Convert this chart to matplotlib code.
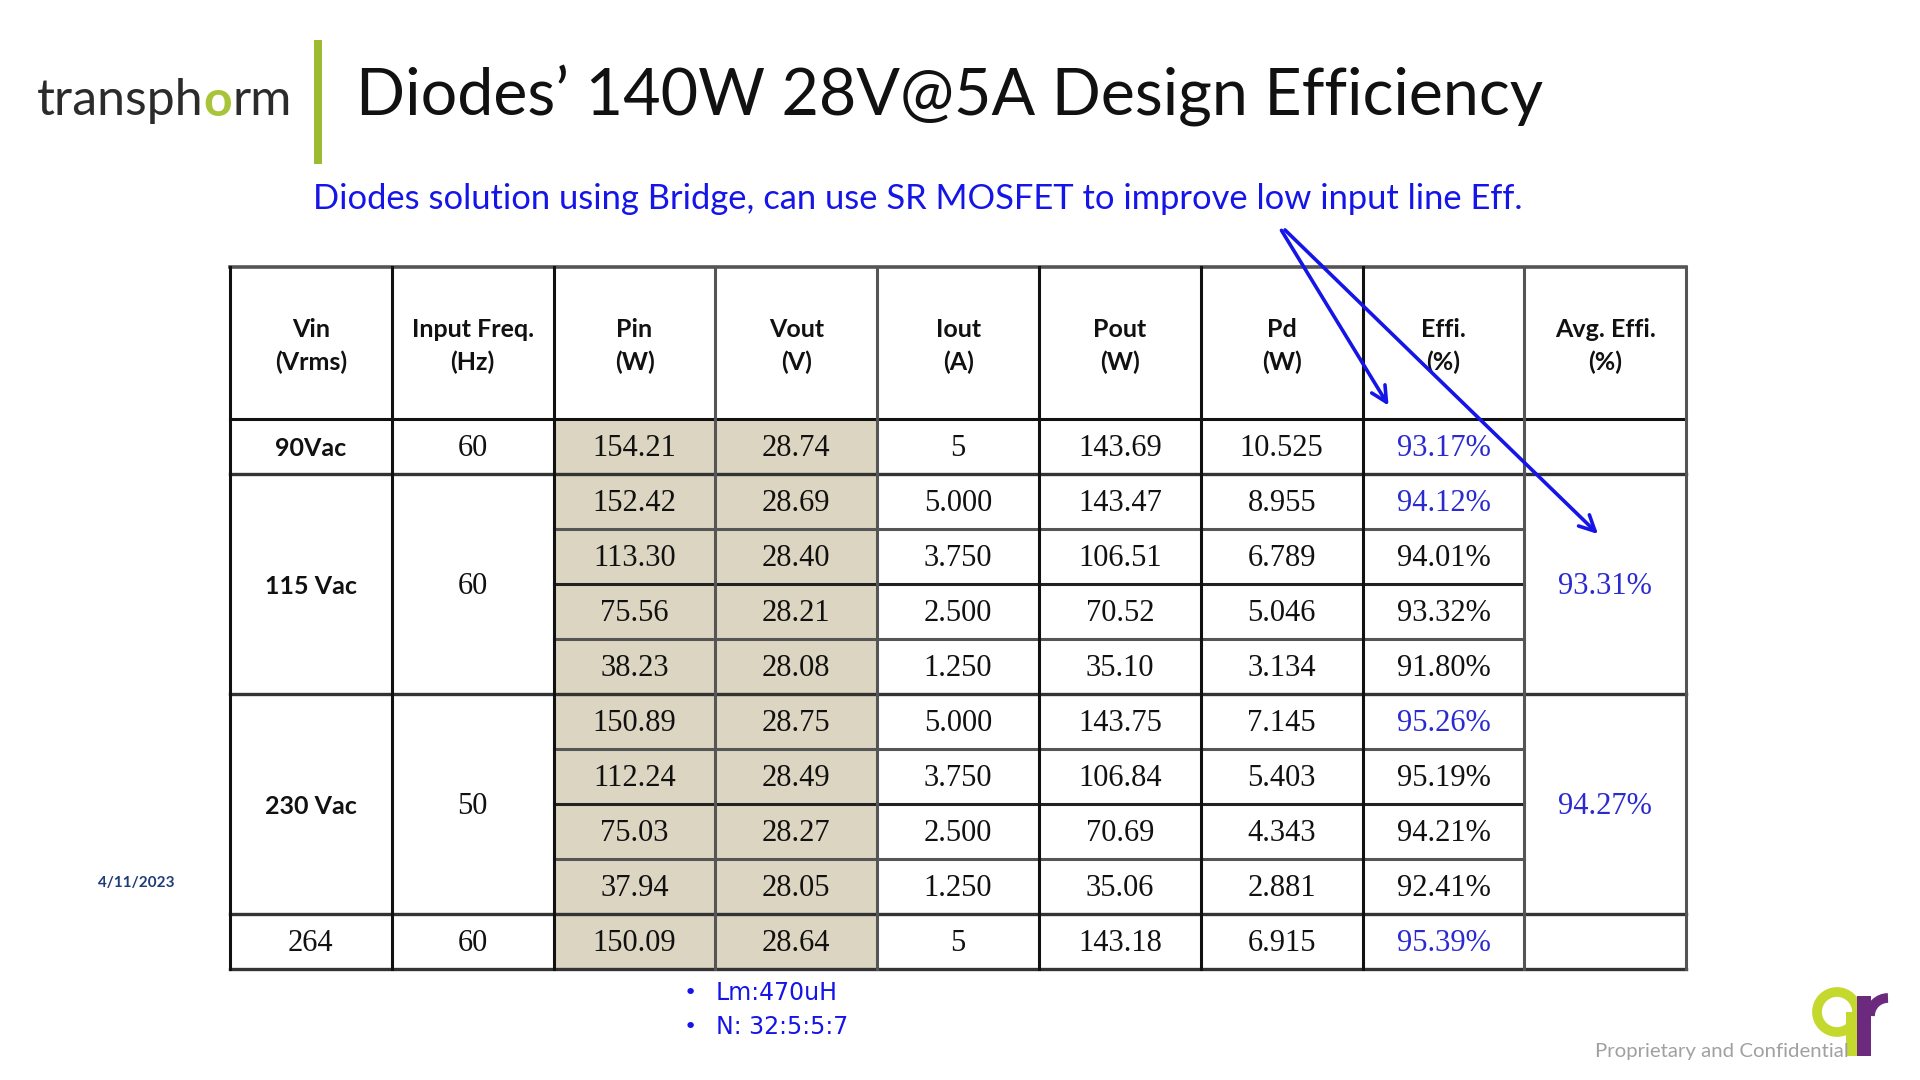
import matplotlib.pyplot as plt
from matplotlib.patches import Rectangle, Circle, Arc

# ---- data ----
col_heads = ['Vin\n(Vrms)', 'Input Freq.\n(Hz)', 'Pin\n(W)', 'Vout\n(V)', 'Iout\n(A)',
             'Pout\n(W)', 'Pd\n(W)', 'Effi.\n(%)', 'Avg. Effi.\n(%)']
vin_labels = ['90Vac', '115 Vac', '230 Vac', '264']
vin_bold = [True, True, True, False]
freq = ['60', '60', '50', '60']
group_rows = [1, 4, 4, 1]
avg_effi = ['', '93.31%', '94.27%', '']

pin = ['154.21', '152.42', '113.30', '75.56', '38.23', '150.89', '112.24', '75.03', '37.94', '150.09']
vout = ['28.74', '28.69', '28.40', '28.21', '28.08', '28.75', '28.49', '28.27', '28.05', '28.64']
iout = ['5', '5.000', '3.750', '2.500', '1.250', '5.000', '3.750', '2.500', '1.250', '5']
pout = ['143.69', '143.47', '106.51', '70.52', '35.10', '143.75', '106.84', '70.69', '35.06', '143.18']
pd_w = ['10.525', '8.955', '6.789', '5.046', '3.134', '7.145', '5.403', '4.343', '2.881', '6.915']
effi = ['93.17%', '94.12%', '94.01%', '93.32%', '91.80%', '95.26%', '95.19%', '94.21%', '92.41%', '95.39%']
effi_blue = [True, True, False, False, False, True, False, False, False, True]

notes = ['Lm:470uH', 'N: 32:5:5:7']

# ---- layout ----
X0, CW = 230, 161.8
Y_TOP, Y_HEAD, RH = 267, 419, 55.0
BLUE = '#1515E8'
VAL_BLUE = '#2A2AD0'
SHADE = '#DCD5C1'
SERIF = 'Liberation Serif'
SANS = 'Lato'

fig = plt.figure(figsize=(19.2, 10.8), dpi=100)
ax = fig.add_axes([0, 0, 1, 1])
ax.set_xlim(0, 1920)
ax.set_ylim(1080, 0)
ax.axis('off')

ncol = len(col_heads)
nrow = len(pin)


def cx(c):
    return X0 + CW * (c + 0.5)


def ry(r):
    return Y_HEAD + RH * r


# shaded Pin / Vout cells
for c in (2, 3):
    ax.add_patch(Rectangle((X0 + CW * c, ry(0)), CW, RH * nrow, color=SHADE, lw=0, zorder=1))

# header
for c, h in enumerate(col_heads):
    ax.text(cx(c), (Y_TOP + Y_HEAD) / 2 + 3, h, ha='center', va='center', fontsize=18,
            fontweight='bold', family=SANS, linespacing=1.45, color='#111111', zorder=3)

# body values
cols = [pin, vout, iout, pout, pd_w, effi]
for r in range(nrow):
    yc = ry(r) + RH / 2 + 2
    for k, vals in enumerate(cols):
        c = k + 2
        color = VAL_BLUE if (vals is effi and effi_blue[r]) else '#111111'
        ax.text(cx(c), yc, vals[r], ha='center', va='center', fontsize=22,
                family=SERIF, color=color, zorder=3)

# merged group cells
start = 0
group_starts = []
for g, n in enumerate(group_rows):
    group_starts.append(start)
    yc = ry(start) + RH * n / 2 + 2
    if vin_bold[g]:
        ax.text(cx(0), yc, vin_labels[g], ha='center', va='center', fontsize=18,
                fontweight='bold', family=SANS, color='#111111', zorder=3)
    else:
        ax.text(cx(0), yc, vin_labels[g], ha='center', va='center', fontsize=22,
                family=SERIF, color='#111111', zorder=3)
    ax.text(cx(1), yc, freq[g], ha='center', va='center', fontsize=22,
            family=SERIF, color='#111111', zorder=3)
    if avg_effi[g]:
        ax.text(cx(8), yc, avg_effi[g], ha='center', va='center', fontsize=22,
                family=SERIF, color=VAL_BLUE, zorder=3)
    start += n

# grid lines
x_right = X0 + CW * ncol
ax.plot([X0, x_right], [Y_TOP, Y_TOP], color='#555555', lw=2.6, zorder=4)
ax.plot([X0, x_right], [Y_HEAD, Y_HEAD], color='#111111', lw=2.2, zorder=4)
for r in range(1, nrow + 1):
    if r in group_starts or r == nrow:
        ax.plot([X0, x_right], [ry(r), ry(r)], color='#333333', lw=2.4, zorder=4)
    else:
        ax.plot([X0 + CW * 2, X0 + CW * 8], [ry(r), ry(r)],
                color='#222222' if r % 2 else '#555555', lw=2.2, zorder=4)
for c in range(ncol + 1):
    col = '#555555' if c in (3, 4, 8, 9) else '#111111'
    ax.plot([X0 + CW * c] * 2, [Y_TOP, ry(nrow)], color=col, lw=2.2, zorder=4)

# title area
ax.add_patch(Rectangle((314, 40), 8, 124, color='#9DBB31', lw=0, zorder=2))
ax.text(356, 96, 'Diodes\u2019 140W 28V@5A Design Efficiency', ha='left', va='center',
        fontsize=46.5, family=SANS, color='#111111')
t1 = ax.text(37, 101, 'transph', ha='left', va='center', fontsize=36, family=SANS,
             color='#2B2B2B')
t2 = ax.annotate('o', xy=(1, 0), xycoords=t1, va='bottom', ha='left', fontsize=36,
                 family=SANS, color='#A8C43A', fontweight='bold')
ax.annotate('rm', xy=(1, 0), xycoords=t2, va='bottom', ha='left', fontsize=36,
            family=SANS, color='#2B2B2B')

ax.text(313, 199, 'Diodes solution using Bridge, can use SR MOSFET to improve low input line Eff.',
        ha='left', va='center', fontsize=24.8, family=SANS, color=BLUE)

# arrows
arrow_kw = dict(arrowstyle='->', color=BLUE, lw=2.6, mutation_scale=28)
ax.annotate('', xy=(1390, 408), xytext=(1280, 228), arrowprops=arrow_kw, zorder=6)
ax.annotate('', xy=(1600, 536), xytext=(1283, 228), arrowprops=arrow_kw, zorder=6)

# notes
for i, n in enumerate(notes):
    y = 993 + 34 * i
    ax.text(690, y, '\u2022', ha='center', va='center', fontsize=16, color=BLUE, family='DejaVu Sans')
    ax.text(716, y, n, ha='left', va='center', fontsize=17, color=BLUE, family='DejaVu Sans')

# footer
ax.text(98, 883, '4/11/2023', ha='left', va='center', fontsize=11, fontweight='bold',
        color='#1F3C78', family=SANS)
ax.text(1849, 1051, 'Proprietary and Confidential', ha='right', va='center', fontsize=14.7,
        color='#A0A0A0', family=SANS)
ax.add_patch(Circle((1837, 1012), 20, fill=False, ec='#C4D82E', lw=7))
ax.add_patch(Rectangle((1846, 1012), 12, 44, color='#C4D82E', lw=0))
ax.add_patch(Rectangle((1857, 996), 14, 60, color='#6B2A7E', lw=0))
ax.add_patch(Arc((1888, 1016), 36, 36, theta1=180, theta2=270, ec='#6B2A7E', lw=7))

fig.savefig('out.png', dpi=100)
